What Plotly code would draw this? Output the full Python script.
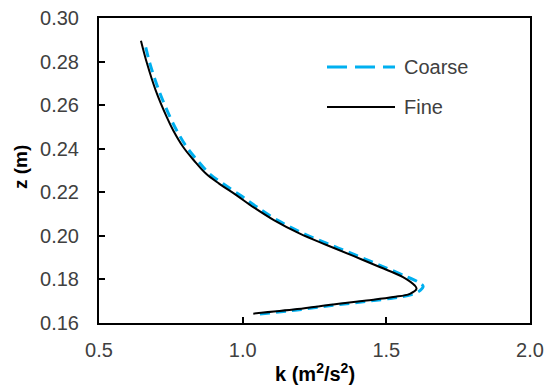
import plotly.graph_objects as go

# Fine mesh profile (k in m2/s2, z in m)
fine_k = [1.037, 1.19, 1.315, 1.431, 1.524, 1.582, 1.605, 1.599, 1.558, 1.477, 1.385, 1.292,
          1.199, 1.11, 1.037, 0.979, 0.918, 0.872, 0.830, 0.793, 0.758, 0.7355, 0.697,
          0.667, 0.646]
fine_z = [0.1643, 0.1664, 0.1685, 0.1703, 0.1719, 0.1734, 0.1757, 0.1772, 0.1811, 0.1857,
          0.1908, 0.1958, 0.2010, 0.2071, 0.2132, 0.2186, 0.2240, 0.2286, 0.2347, 0.2408,
          0.2485, 0.2546, 0.2669, 0.2792, 0.2896]

# Coarse mesh profile
coarse_k = [1.06, 1.19, 1.315, 1.43, 1.525, 1.588, 1.618, 1.628, 1.615, 1.572, 1.490, 1.398,
            1.305, 1.212, 1.122, 1.050, 0.992, 0.931, 0.884, 0.842, 0.805, 0.770, 0.747,
            0.708, 0.677, 0.660]
coarse_z = [0.1641, 0.1660, 0.1681, 0.1699, 0.1715, 0.1731, 0.1750, 0.1768, 0.1785, 0.1812,
            0.1858, 0.1909, 0.1959, 0.2010, 0.2071, 0.2132, 0.2186, 0.2240, 0.2286, 0.2347,
            0.2408, 0.2485, 0.2546, 0.2669, 0.2792, 0.2880]

x_ticks = [0.5, 1.0, 1.5, 2.0]
y_ticks = [0.16, 0.18, 0.20, 0.22, 0.24, 0.26, 0.28, 0.30]

BLUE = "#00B0F0"
FRAME = "black"
FONT = "Liberation Sans, Arial, sans-serif"
PW, PH = 431.0, 305.0  # plot area size in px

fig = go.Figure()
fig.add_trace(go.Scatter(x=coarse_k, y=coarse_z, mode="lines", name="Coarse",
                         line=dict(color=BLUE, width=3, dash="10px,6px", shape="spline")))
fig.add_trace(go.Scatter(x=fine_k, y=fine_z, mode="lines", name="Fine",
                         line=dict(color="black", width=2, shape="spline")))

axis_common = dict(showline=True, linecolor=FRAME, linewidth=2, mirror=True,
                   ticks="inside", ticklen=6, tickwidth=2, tickcolor=FRAME,
                   showgrid=False, zeroline=False, automargin=False,
                   ticklabeloverflow="allow",
                   tickfont=dict(family=FONT, size=20, color="#404040"))

fig.update_xaxes(range=[x_ticks[0], x_ticks[-1]], tickvals=x_ticks, tickformat=".1f",
                 ticklabelstandoff=8, **axis_common)
fig.update_yaxes(range=[y_ticks[0], y_ticks[-1]], tickvals=y_ticks, tickformat=".2f",
                 ticklabelstandoff=14, **axis_common)

# Axis titles
fig.add_annotation(text="<b>k (m<sup>2</sup>/s<sup>2</sup>)</b>", xref="paper", yref="paper",
                   x=0.5, y=-(372 - 323) / PH, xanchor="center", yanchor="middle",
                   showarrow=False, font=dict(family=FONT, size=20, color="black"))
fig.add_annotation(text="<b>z (m)</b>", xref="paper", yref="paper",
                   x=-(99 - 20) / PW, y=(323 - 167) / PH, xanchor="center", yanchor="middle",
                   textangle=-90, showarrow=False,
                   font=dict(family=FONT, size=19, color="black"))

# Legend drawn manually to match the long sample lines
fig.add_shape(type="line", xref="paper", yref="paper",
              x0=(327 - 99) / PW, x1=(395 - 99) / PW,
              y0=(323 - 67) / PH, y1=(323 - 67) / PH,
              line=dict(color=BLUE, width=3, dash="20px,8px"))
fig.add_shape(type="line", xref="paper", yref="paper",
              x0=(327 - 99) / PW, x1=(395 - 99) / PW,
              y0=(323 - 107) / PH, y1=(323 - 107) / PH,
              line=dict(color="black", width=2))
fig.add_annotation(text="Coarse", xref="paper", yref="paper",
                   x=(402 - 99) / PW, y=(323 - 67) / PH, xanchor="left", yanchor="middle",
                   showarrow=False, font=dict(family=FONT, size=20, color="#404040"))
fig.add_annotation(text="Fine", xref="paper", yref="paper",
                   x=(402 - 99) / PW, y=(323 - 107) / PH, xanchor="left", yanchor="middle",
                   showarrow=False, font=dict(family=FONT, size=20, color="#404040"))

# Page body has an 8px default margin, so the figure is sized/offset to compensate
fig.update_layout(width=549, height=382, showlegend=False,
                  margin=dict(l=91, r=27, t=10, b=67, autoexpand=False),
                  paper_bgcolor="white", plot_bgcolor="rgba(0,0,0,0)",
                  font=dict(family=FONT))

fig.write_html("out.html")
